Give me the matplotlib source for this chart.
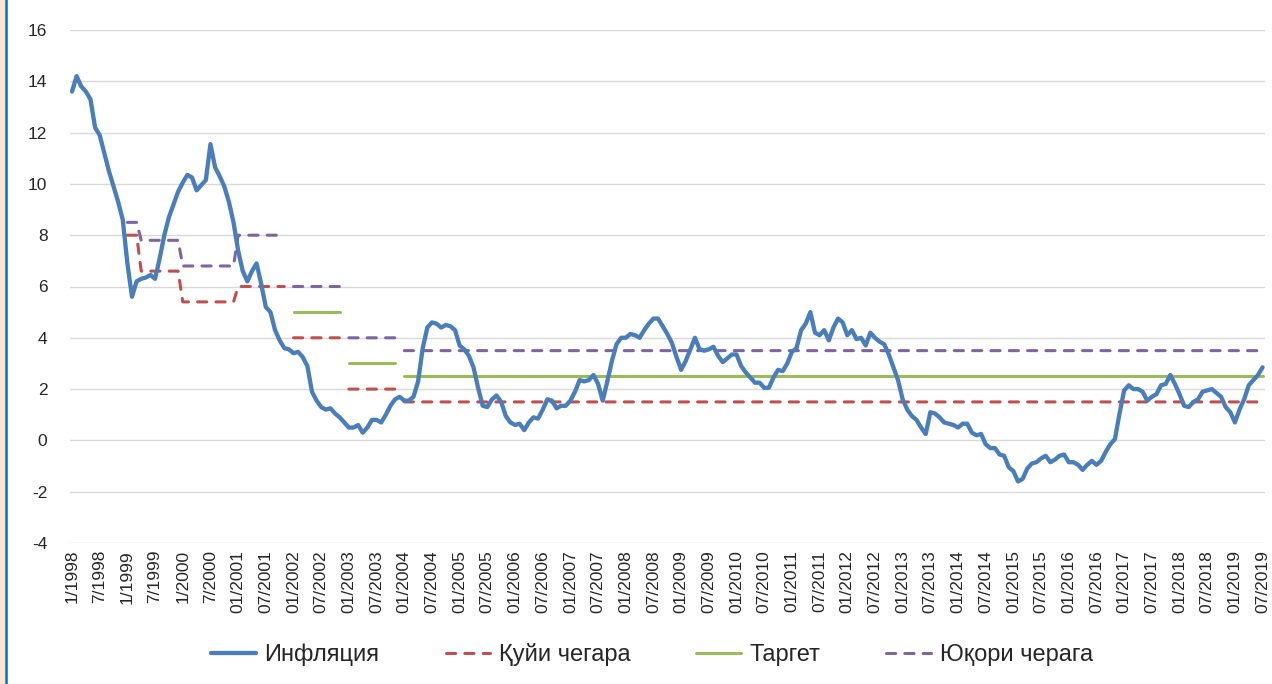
import numpy as np
import pandas as pd
import matplotlib
matplotlib.use('Agg')
import matplotlib.pyplot as plt
from matplotlib.patches import Rectangle
from matplotlib.lines import Line2D

plt.rcParams['font.family'] = ['Liberation Sans', 'DejaVu Sans']
plt.rcParams['axes.unicode_minus'] = False

# monthly inflation, % (Jan 1998 .. Jul 2019), one row per year
inflation = [
    13.6, 14.2, 13.8, 13.6, 13.3, 12.2, 11.9, 11.2, 10.5, 9.9, 9.3, 8.6,      # 1998
    6.9, 5.6, 6.2, 6.3, 6.35, 6.45, 6.3, 7.1, 8.0, 8.7, 9.2, 9.7,             # 1999
    10.05, 10.35, 10.25, 9.75, 9.95, 10.15, 11.55, 10.65, 10.3, 9.9, 9.3, 8.5,  # 2000
    7.4, 6.6, 6.2, 6.6, 6.9, 6.1, 5.2, 5.0, 4.3, 3.9, 3.6, 3.55,              # 2001
    3.4, 3.45, 3.25, 2.9, 1.9, 1.55, 1.3, 1.2, 1.25, 1.05, 0.9, 0.7,          # 2002
    0.5, 0.5, 0.6, 0.3, 0.5, 0.8, 0.8, 0.7, 1.0, 1.35, 1.6, 1.7,              # 2003
    1.55, 1.55, 1.7, 2.3, 3.6, 4.4, 4.6, 4.55, 4.4, 4.5, 4.45, 4.3,           # 2004
    3.7, 3.55, 3.3, 2.85, 2.05, 1.35, 1.3, 1.6, 1.75, 1.5, 0.95, 0.7,         # 2005
    0.6, 0.65, 0.4, 0.7, 0.9, 0.85, 1.2, 1.6, 1.55, 1.25, 1.35, 1.35,         # 2006
    1.55, 1.9, 2.35, 2.3, 2.35, 2.55, 2.2, 1.55, 2.3, 3.1, 3.75, 4.0,         # 2007
    4.0, 4.15, 4.1, 4.0, 4.3, 4.55, 4.75, 4.75, 4.45, 4.15, 3.8, 3.25,        # 2008
    2.75, 3.1, 3.55, 4.0, 3.55, 3.5, 3.55, 3.65, 3.3, 3.05, 3.2, 3.35,        # 2009
    3.35, 2.9, 2.65, 2.45, 2.25, 2.25, 2.05, 2.05, 2.45, 2.75, 2.7, 3.0,      # 2010
    3.45, 3.6, 4.3, 4.55, 5.0, 4.2, 4.1, 4.3, 3.9, 4.4, 4.75, 4.6,            # 2011
    4.1, 4.3, 3.95, 4.0, 3.7, 4.2, 4.0, 3.85, 3.75, 3.35, 2.85, 2.35,         # 2012
    1.6, 1.2, 0.95, 0.8, 0.5, 0.25, 1.1, 1.05, 0.9, 0.7, 0.65, 0.6,           # 2013
    0.5, 0.65, 0.65, 0.3, 0.2, 0.25, -0.15, -0.3, -0.3, -0.55, -0.6, -1.05,   # 2014
    -1.2, -1.6, -1.5, -1.1, -0.9, -0.85, -0.7, -0.6, -0.85, -0.75, -0.6, -0.55,  # 2015
    -0.85, -0.85, -0.95, -1.15, -0.95, -0.8, -0.95, -0.8, -0.45, -0.15, 0.05, 1.05,  # 2016
    1.95, 2.15, 2.0, 2.0, 1.9, 1.55, 1.7, 1.8, 2.15, 2.2, 2.55, 2.2,          # 2017
    1.8, 1.35, 1.3, 1.5, 1.6, 1.9, 1.95, 2.0, 1.85, 1.7, 1.3, 1.1,            # 2018
    0.7, 1.2, 1.6, 2.15, 2.35, 2.55, 2.85,                                    # 2019
]

# corridor periods and levels
band_start = ['1999-01', '1999-04', '2000-01', '2001-01', '2002-01', '2003-01', '2004-01']
band_end = ['1999-03', '1999-12', '2000-12', '2001-11', '2002-11', '2003-11', '2019-07']
lower_bound = [8.0, 6.6, 5.4, 6.0, 4.0, 2.0, 1.5]
upper_bound = [8.5, 7.8, 6.8, 8.0, 6.0, 4.0, 3.5]
target = [np.nan, np.nan, np.nan, np.nan, 5.0, 3.0, 2.5]

tick_labels = [
    '1/1998', '7/1998', '1/1999', '7/1999', '1/2000', '7/2000',
    '01/2001', '07/2001', '01/2002', '07/2002', '01/2003', '07/2003',
    '01/2004', '07/2004', '01/2005', '07/2005', '01/2006', '07/2006',
    '01/2007', '07/2007', '01/2008', '07/2008', '01/2009', '07/2009',
    '01/2010', '07/2010', '01/2011', '07/2011', '01/2012', '07/2012',
    '01/2013', '07/2013', '01/2014', '07/2014', '01/2015', '07/2015',
    '01/2016', '07/2016', '01/2017', '07/2017', '01/2018', '07/2018',
    '01/2019', '07/2019',
]

months = pd.period_range('1998-01', '2019-07', freq='M')
df = pd.DataFrame({'infl': inflation}, index=months)
df['low'] = np.nan
df['up'] = np.nan
df['tgt'] = np.nan
for s, e, lo, hi, t in zip(band_start, band_end, lower_bound, upper_bound, target):
    df.loc[pd.Period(s, 'M'):pd.Period(e, 'M'), ['low', 'up', 'tgt']] = [lo, hi, t]

x = np.arange(len(df))

# colours (Excel 2010 palette)
c_blue = '#4A7EBB'
c_red = '#C0504D'
c_green = '#9BBB59'
c_purple = '#8064A2'
txt = '#262626'

fig = plt.figure(figsize=(12.72, 6.84), dpi=100)
ax = fig.add_axes([69.7 / 1272, 1 - 543 / 684, (1264.9 - 69.7) / 1272, (543 - 30) / 684])

# left page border
fig.patches.append(Rectangle((0, 0), 5.0 / 1272, 1, transform=fig.transFigure,
                             facecolor='#FCE4D6', edgecolor='none', zorder=0))
fig.add_artist(Line2D([6.0 / 1272, 6.0 / 1272], [0, 1], transform=fig.transFigure,
                      color='#0070C0', lw=1.8))

ax.plot(x, df['infl'], color=c_blue, lw=3.1, solid_capstyle='round',
        solid_joinstyle='round', zorder=5, label='Инфляция')
ax.plot(x, df['low'], color=c_red, lw=2.2, dashes=(3, 3), dash_capstyle='round',
        zorder=3, label='Қуйи чегара')
ax.plot(x, df['tgt'], color=c_green, lw=2.2, solid_capstyle='round',
        zorder=3, label='Таргет')
ax.plot(x, df['up'], color=c_purple, lw=2.2, dashes=(3, 3), dash_capstyle='round',
        zorder=3, label='Юқори черага')

ax.set_xlim(-0.5, len(df) - 0.5)
ax.set_ylim(-4, 16)
ax.set_yticks(np.arange(-4, 17, 2))
ax.set_xticks(np.arange(0, len(df), 6))
ax.set_xticklabels(tick_labels, rotation=90)
ax.tick_params(axis='both', length=0, labelsize=12.5, labelcolor=txt)
ax.tick_params(axis='x', pad=5)
ax.tick_params(axis='y', pad=16)
ax.grid(axis='y', color='#D9D9D9', lw=1.0)
ax.set_axisbelow(True)
for sp in ax.spines.values():
    sp.set_visible(False)

leg = fig.legend(loc='center', bbox_to_anchor=(652 / 1272, 1 - 655 / 684), ncol=4,
                 frameon=False, fontsize=17, handlelength=1.9, columnspacing=2.8,
                 handletextpad=0.35, labelcolor=txt)

fig.savefig('out.png', dpi=100)
